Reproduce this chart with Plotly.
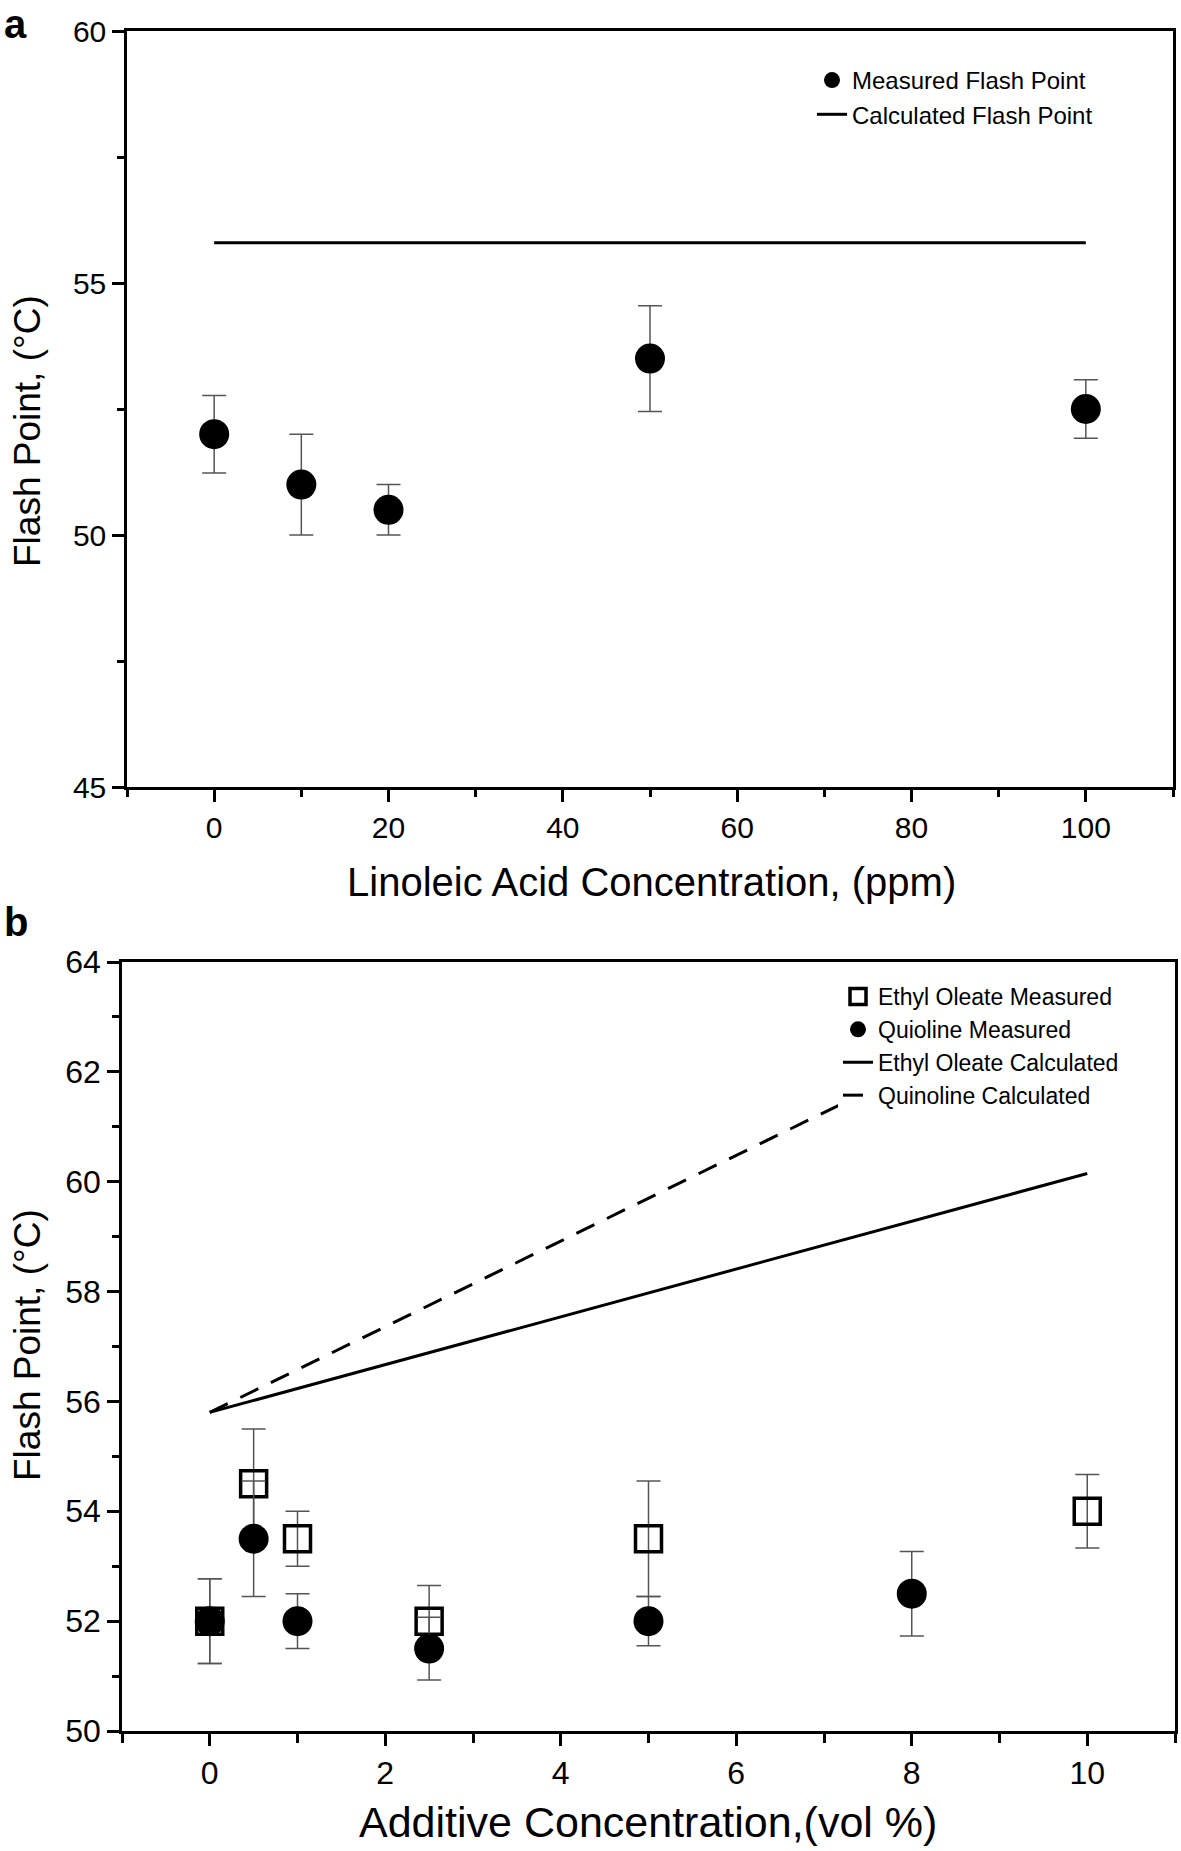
import plotly.graph_objects as go
from plotly.subplots import make_subplots

# panel a: linoleic acid
la_conc = [0, 10, 20, 50, 100]
la_fp = [52.0, 51.0, 50.5, 53.5, 52.5]
la_err = [0.77, 1.0, 0.5, 1.05, 0.58]
la_calc_x = [0, 100]
la_calc_y = [55.8, 55.8]

# panel b: ethyl oleate and quinoline
eo_conc = [0, 0.5, 1, 2.5, 5, 10]
eo_fp = [52.0, 54.5, 53.5, 52.0, 53.5, 54.0]
eo_err = [0.77, 1.0, 0.5, 0.65, 1.05, 0.67]
qu_conc = [0, 0.5, 1, 2.5, 5, 8]
qu_fp = [52.0, 53.5, 52.0, 51.5, 52.0, 52.5]
qu_err = [0.77, 1.05, 0.5, 0.57, 0.45, 0.77]
eo_calc_x = [0, 10]
eo_calc_y = [55.8, 60.15]
qu_calc_x = [0, 10]
qu_calc_y = [55.8, 63.6]

W, H = 1181, 1851
FONT = "Liberation Sans, Arial, sans-serif"


def fx(px):
    return px / W


def fy(py):
    return 1 - py / H


fig = make_subplots(rows=2, cols=1)

err_style = dict(type="data", color="#555555", thickness=1.5, width=12)

# panel a traces
fig.add_trace(go.Scatter(x=la_conc, y=la_fp, mode="markers", name="Measured Flash Point",
                         marker=dict(symbol="circle", size=30, color="black"),
                         error_y=dict(array=la_err, **err_style), legend="legend"),
              row=1, col=1)
fig.add_trace(go.Scatter(x=la_calc_x, y=la_calc_y, mode="lines", name="Calculated Flash Point",
                         line=dict(color="black", width=3), legend="legend"),
              row=1, col=1)

# panel b traces
fig.add_trace(go.Scatter(x=eo_conc, y=eo_fp, mode="markers", name="Ethyl Oleate Measured",
                         marker=dict(symbol="square-open", size=26, color="black", line=dict(width=3.5)),
                         error_y=dict(array=eo_err, **err_style), legend="legend2"),
              row=2, col=1)
fig.add_trace(go.Scatter(x=qu_conc, y=qu_fp, mode="markers", name="Quioline Measured",
                         marker=dict(symbol="circle", size=30, color="black"),
                         error_y=dict(array=qu_err, **err_style), legend="legend2"),
              row=2, col=1)
fig.add_trace(go.Scatter(x=eo_calc_x, y=eo_calc_y, mode="lines", name="Ethyl Oleate Calculated",
                         line=dict(color="black", width=3), legend="legend2"),
              row=2, col=1)
fig.add_trace(go.Scatter(x=qu_calc_x, y=qu_calc_y, mode="lines", name="Quinoline Calculated",
                         line=dict(color="black", width=3, dash="20px,14px"), legend="legend2"),
              row=2, col=1)


def axis(size, **kw):
    d = dict(showline=True, linecolor="black", linewidth=2.5, mirror=True,
             ticks="outside", tickcolor="black", tickwidth=2.5, ticklen=12,
             showgrid=False, zeroline=False, automargin=False,
             tickfont=dict(family=FONT, size=size, color="black"))
    d.update(kw)
    return d


def minor(dtick, tick0, ticklen=7):
    return dict(ticks="outside", ticklen=ticklen, tickwidth=2.5, tickcolor="black", dtick=dtick, tick0=tick0)


fig.update_layout(
    width=W, height=H,
    margin=dict(l=0, r=0, t=0, b=0, autoexpand=False),
    plot_bgcolor="white", paper_bgcolor="white",
    font=dict(family=FONT, color="black"),
    xaxis=axis(30, domain=[fx(127), fx(1173)], range=[-10, 110], tick0=0, dtick=20,
               minor=minor(10, 0)),
    yaxis=axis(30, domain=[fy(787), fy(31)], range=[45, 60], tick0=45, dtick=5,
               minor=minor(2.5, 45)),
    xaxis2=axis(32, domain=[fx(122), fx(1175)], range=[-1, 11], tick0=0, dtick=2,
                minor=minor(1, 0, 9)),
    yaxis2=axis(32, domain=[fy(1731), fy(962)], range=[50, 64], tick0=50, dtick=2,
                minor=minor(1, 50)),
    legend=dict(x=fx(812), y=fy(58), xanchor="left", yanchor="top",
                bgcolor="rgba(255,255,255,0)", borderwidth=0,
                font=dict(family=FONT, size=24, color="black"), tracegroupgap=0),
    legend2=dict(x=fx(838), y=fy(975), xanchor="left", yanchor="top",
                 bgcolor="white", borderwidth=0,
                 font=dict(family=FONT, size=23, color="black"), tracegroupgap=0),
    showlegend=True,
)

annotations = [
    dict(text="<b>a</b>", x=fx(2), y=fy(0), xanchor="left", yanchor="top", font=dict(size=40)),
    dict(text="<b>b</b>", x=fx(2), y=fy(898), xanchor="left", yanchor="top", font=dict(size=40)),
    dict(text="Linoleic Acid Concentration, (ppm)", x=fx(651), y=fy(882), xanchor="center",
         yanchor="middle", font=dict(size=40)),
    dict(text="Additive Concentration,(vol %)", x=fx(648), y=fy(1822), xanchor="center",
         yanchor="middle", font=dict(size=43)),
    dict(text="Flash Point, (°C)", x=fx(27), y=fy(431), xanchor="center", yanchor="middle",
         textangle=-90, font=dict(size=37)),
    dict(text="Flash Point, (°C)", x=fx(27), y=fy(1345), xanchor="center", yanchor="middle",
         textangle=-90, font=dict(size=37)),
]
for a in annotations:
    a.update(xref="paper", yref="paper", showarrow=False)
    a["font"].update(family=FONT, color="black")
fig.update_layout(annotations=annotations)

# drop the default 8px body margin so the figure fills the window exactly
fig.write_html("out.html", config={"displayModeBar": False},
               post_script="document.body.style.margin = '0';")
